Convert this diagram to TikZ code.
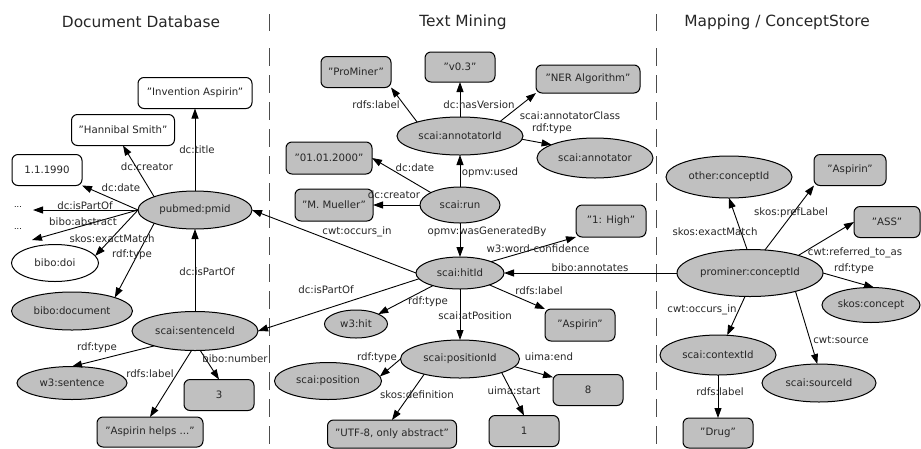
\documentclass[tikz,border=0pt]{standalone}
\usepackage{fontspec}
\setmainfont{DejaVu Sans}
\usetikzlibrary{arrows.meta,shapes.geometric}
\definecolor{myGray}{RGB}{192,192,192}
\tikzset{
myTitle/.style={
	font=\fontsize{15.4}{18}\selectfont, inner sep=0pt, text=black!85
}
, myLiteral/.style={
	rectangle, rounded corners=6pt, draw, fill=myGray, line width=1pt,
	inner sep=0pt, outer sep=0pt, minimum width=70pt, minimum height=31pt,
	font=\fontsize{10.2}{12}\selectfont, text=black!85
}
, myLiteralW/.style={myLiteral, fill=white}
, myResource/.style={
	ellipse, draw, fill=myGray, line width=1pt,
	inner sep=0pt, outer sep=0pt,
	font=\fontsize{10.2}{12}\selectfont, text=black!85
}
, myResourceW/.style={myResource, fill=white}
, myDots/.style={font=\fontsize{8}{10}\selectfont, inner sep=0pt}
% link
, myLink/.style={-{Triangle[length=10pt,width=7pt]}, line width=0.9pt}
, myLabel/.style={font=\fontsize{10.2}{12}\selectfont, inner sep=0pt, text=black!85}
, myBorder/.style={line width=0.9pt, black!70}
}
\begin{document}
\begin{tikzpicture}[x=1pt,y=-1pt]
	\useasboundingbox (0,0) rectangle (921,448);
	% columns
	\node[myTitle] (tDoc) at (141,22) {Document Database};
	\node[myTitle] (tMining) at (463,22) {Text Mining};
	\node[myTitle] (tMap) at (777,22) {Mapping / ConceptStore};
	\draw[myBorder] (269,14) -- (269,31);
	\draw[myBorder,dash pattern=on 18pt off 9pt] (269,48) -- (269,448);
	\draw[myBorder] (656,14) -- (656,31);
	\draw[myBorder,dash pattern=on 18pt off 9pt] (656,48) -- (656,448);

	% document database
	\node[myLiteralW, minimum width=114pt] (invention) at (195,93) {"Invention Aspirin"};
	\node[myLiteralW, minimum width=103pt] (hannibal) at (123,130) {"Hannibal Smith"};
	\node[myLiteralW] (dateA) at (47,170) {1.1.1990};
	\node[myDots] (dotsA) at (18,207) {...};
	\node[myDots] (dotsB) at (18,229) {...};
	\coordinate (dotsEndA) at (33,210);
	\coordinate (dotsEndB) at (32,240);
	\node[myResource, minimum width=114pt, minimum height=38pt] (pmid) at (195,210) {pubmed:pmid};
	\node[myResourceW, minimum width=87pt, minimum height=37pt] (doi) at (55,263) {bibo:doi};
	\node[myResource, minimum width=121pt, minimum height=38pt] (document) at (72,311) {bibo:document};
	\node[myResource, minimum width=126pt, minimum height=39pt] (sentence) at (195,331) {scai:sentenceId};
	\node[myResource, minimum width=110pt, minimum height=33pt] (wsent) at (72,383) {w3:sentence};
	\node[myLiteral] (three) at (219,395) {3};
	\node[myLiteral, minimum width=106pt, minimum height=30pt] (helps) at (150,432) {"Aspirin helps ..."};

	% text mining
	\node[myLiteral] (prominer) at (356,72) {"ProMiner"};
	\node[myLiteral, minimum height=30pt] (version) at (460,67) {"v0.3"};
	\node[myLiteral, minimum width=104pt, minimum height=28pt] (ner) at (588,79) {"NER Algorithm"};
	\node[myResource, minimum width=126pt, minimum height=38pt] (annot) at (460,136) {scai:annotatorId};
	\node[myResource, minimum width=116pt, minimum height=40pt] (annotator) at (595,158) {scai:annotator};
	\node[myLiteral, minimum width=86pt, minimum height=32pt] (dateB) at (329,158) {"01.01.2000"};
	\node[myLiteral, minimum width=78pt, minimum height=32pt] (mueller) at (334,205) {"M. Mueller"};
	\node[myResource, minimum width=80pt, minimum height=36pt] (run) at (460,205) {scai:run};
	\node[myLiteral, minimum height=32pt] (high) at (611,221) {"1: High"};
	\node[myResource, minimum width=88pt, minimum height=32pt] (hit) at (460,273) {scai:hitId};
	\node[myResource, minimum width=63pt, minimum height=28pt] (w3hit) at (356,324) {w3:hit};
	\node[myLiteral, minimum height=32pt] (aspirinB) at (580,325) {"Aspirin"};
	\node[myResource, minimum width=119pt, minimum height=38pt] (position) at (460,359) {scai:positionId};
	\node[myResource, minimum width=107pt, minimum height=37pt] (posclass) at (328,381) {scai:position};
	\node[myLiteral] (eight) at (588,390) {8};
	\node[myLiteral, minimum width=129pt, minimum height=28pt] (utf) at (392,434) {"UTF-8, only abstract"};
	\node[myLiteral] (one) at (524,431) {1};

	% mapping
	\node[myResource, minimum width=126pt, minimum height=42pt] (other) at (729,177) {other:conceptId};
	\node[myLiteral, minimum width=72pt] (aspirinC) at (850,170) {"Aspirin"};
	\node[myLiteral, minimum width=66pt] (ass) at (887,222) {"ASS"};
	\node[myResource, minimum width=146pt, minimum height=47pt] (prom) at (750,273) {prominer:conceptId};
	\node[myResource, minimum width=98pt, minimum height=35pt] (concept) at (871,305) {skos:concept};
	\node[myResource, minimum width=116pt, minimum height=40pt] (context) at (718,355) {scai:contextId};
	\node[myResource, minimum width=114pt, minimum height=38pt] (source) at (819,383) {scai:sourceId};
	\node[myLiteral, minimum height=30pt] (drug) at (718,433) {"Drug"};

	% links
	\draw[myLink] (pmid) -- (invention);
	\draw[myLink] (pmid.162) -- (hannibal.south);
	\draw[myLink] (pmid.west) -- (dateA.south east);
	\draw[myLink] (pmid.west) -- (dotsEndA);
	\draw[myLink] (pmid.west) -- (dotsEndB);
	\draw[myLink] (pmid.west) -- (doi.10);
	\draw[myLink] (pmid.198) -- (document.north east);
	\draw[myLink] (sentence) -- (pmid);
	\draw[myLink] (sentence.200) -- (wsent.north);
	\draw[myLink] (sentence.260) -- (helps.north);
	\draw[myLink] (sentence.285) -- (three.north);

	\draw[myLink] (annot.162) -- (prominer.south east);
	\draw[myLink] (annot) -- (version);
	\draw[myLink] (annot.20) -- (ner.south west);
	\draw[myLink] (annot.-3) -- (annotator.163);
	\draw[myLink] (run) -- (annot);
	\draw[myLink] (run.157) -- (dateB.east);
	\draw[myLink] (run) -- (mueller);
	\draw[myLink] (run) -- (hit);
	\draw[myLink] (hit.west) -- (pmid.east);
	\draw[myLink] (hit.188) -- (sentence.east);
	\draw[myLink] (hit.205) -- (w3hit.north east);
	\draw[myLink] (hit) -- (position);
	\draw[myLink] (hit.-22) -- (aspirinB.north west);
	\draw[myLink] (hit.20) -- (high.south west);
	\draw[myLink] (prom) -- (hit);
	\draw[myLink] (position.west) -- (posclass.5);
	\draw[myLink] (position.203) -- (utf.north);
	\draw[myLink] (position.-18) -- (one.north);
	\draw[myLink] (position.-8) -- (eight.160);

	\draw[myLink] (prom.97) -- (other.south);
	\draw[myLink] (prom.57) -- (aspirinC.south west);
	\draw[myLink] (prom.20) -- (ass.west);
	\draw[myLink] (prom.east) -- (concept.80);
	\draw[myLink] (prom.258) -- (context.65);
	\draw[myLink] (prom.-22) -- (source.95);
	\draw[myLink] (context) -- (drug);

	% link labels
	\node[myLabel] (lTitle) at (197,150) {dc:title};
	\node[myLabel] (lCreatorA) at (147,167) {dc:creator};
	\node[myLabel] (lDateA) at (121,188) {dc:date};
	\node[myLabel] (lPartA) at (85,206) {dc:isPartOf};
	\node[myLabel] (lAbstract) at (83,222) {bibo:abstract};
	\node[myLabel] (lMatchA) at (112,239) {skos:exactMatch};
	\node[myLabel] (lTypeA) at (132,255) {rdf:type};
	\node[myLabel] (lPartB) at (207,272) {dc:isPartOf};
	\node[myLabel] (lTypeB) at (97,348) {rdf:type};
	\node[myLabel] (lLabelA) at (150,374) {rdfs:label};
	\node[myLabel] (lNumber) at (235,359) {bibo:number};

	\node[myLabel] (lLabelB) at (376,105) {rdfs:label};
	\node[myLabel] (lVersion) at (479,105) {dc:hasVersion};
	\node[myLabel] (lClass) at (570,116) {scai:annotatorClass};
	\node[myLabel] (lTypeC) at (552,129) {rdf:type};
	\node[myLabel] (lUsed) at (490,173) {opmv:used};
	\node[myLabel] (lDateB) at (415,168) {dc:date};
	\node[myLabel] (lCreatorB) at (394,195) {dc:creator};
	\node[myLabel] (lGenerated) at (487,232) {opmv:wasGeneratedBy};
	\node[myLabel] (lOccursA) at (357,232) {cwt:occurs\_in};
	\node[myLabel] (lPartC) at (326,290) {dc:isPartOf};
	\node[myLabel] (lTypeD) at (428,302) {rdf:type};
	\node[myLabel] (lAtPos) at (475,316) {scai:atPosition};
	\node[myLabel] (lLabelC) at (539,291) {rdfs:label};
	\node[myLabel] (lConf) at (538,249) {w3:word-confidence};
	\node[myLabel] (lAnnotates) at (590,268) {bibo:annotates};
	\node[myLabel] (lTypeE) at (377,358) {rdf:type};
	\node[myLabel] (lDef) at (417,395) {skos:definition};
	\node[myLabel] (lStart) at (514,391) {uima:start};
	\node[myLabel] (lEnd) at (549,357) {uima:end};

	\node[myLabel] (lMatchB) at (715,232) {skos:exactMatch};
	\node[myLabel] (lPref) at (791,213) {skos:prefLabel};
	\node[myLabel] (lReferred) at (855,253) {cwt:referred\_to\_as};
	\node[myLabel] (lTypeF) at (854,269) {rdf:type};
	\node[myLabel] (lOccursB) at (702,310) {cwt:occurs\_in};
	\node[myLabel] (lSource) at (841,340) {cwt:source};
	\node[myLabel] (lLabelD) at (720,392) {rdfs:label};
\end{tikzpicture}
\end{document}
